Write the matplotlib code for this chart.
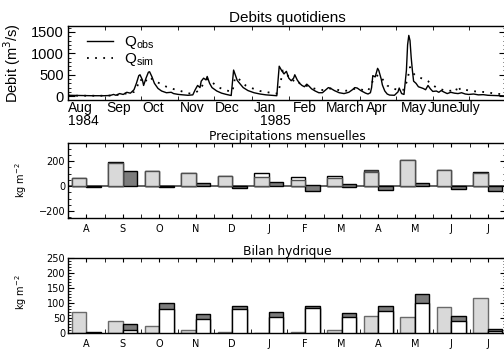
import numpy as np
import matplotlib
matplotlib.use('Agg')
import matplotlib.pyplot as plt
from matplotlib.ticker import MultipleLocator, FixedLocator
from matplotlib.lines import Line2D

# ---------------- data ----------------
# daily discharge vertices (day, m3/s), day 0 = 1 Aug 1984
obs_points = [(0, 20), (10, 15), (20, 10), (30, 10), (35, 15), (38, 40), (40, 20), (43, 60), (46, 40),
              (49, 90), (52, 70), (55, 150), (57, 300), (59, 480), (60, 500), (62, 380), (63, 250),
              (65, 420), (67, 560), (68, 570), (70, 450), (72, 300), (75, 180), (78, 120), (82, 80),
              (86, 90), (88, 60), (92, 40), (96, 30), (100, 20), (104, 30), (106, 150), (108, 250),
              (110, 200), (111, 350), (113, 420), (115, 380), (116, 460), (118, 300), (120, 200),
              (124, 120), (128, 70), (132, 40), (136, 15), (138, 610), (140, 450), (141, 370),
              (143, 300), (146, 200), (150, 130), (155, 80), (160, 50), (165, 30), (170, 20), (174, 10),
              (176, 700), (178, 600), (180, 520), (182, 580), (184, 420), (186, 360), (188, 420),
              (189, 500), (191, 380), (193, 300), (195, 250), (197, 220), (199, 280), (201, 230),
              (203, 170), (206, 120), (209, 80), (212, 80), (215, 150), (217, 200), (219, 180),
              (222, 130), (226, 80), (230, 60), (234, 90), (237, 150), (239, 200), (241, 190),
              (244, 130), (248, 70), (250, 50), (252, 80), (253, 200), (254, 480), (256, 450),
              (258, 650), (259, 600), (261, 400), (262, 260), (264, 120), (266, 50), (268, 25),
              (272, 20), (275, 100), (276, 190), (278, 60), (280, 40), (282, 600), (283, 1200),
              (284, 1420), (285, 1300), (286, 900), (287, 600), (288, 350), (290, 300), (292, 220),
              (294, 200), (296, 180), (298, 150), (299, 200), (300, 250), (302, 170), (304, 110),
              (307, 120), (309, 90), (311, 130), (313, 100), (316, 60), (319, 90), (322, 70), (325, 60),
              (328, 80), (331, 50), (334, 40), (338, 50), (342, 30), (346, 35), (350, 20), (355, 15),
              (360, 10), (365, 5)]
sim_points = [(0, 10), (30, 10), (40, 20), (45, 60), (50, 60), (55, 100), (58, 250), (60, 400), (62, 350),
              (64, 300), (66, 420), (68, 450), (70, 400), (74, 330), (78, 280), (82, 220), (86, 180),
              (90, 150), (94, 120), (98, 80), (102, 60), (106, 80), (110, 150), (113, 300), (116, 400),
              (119, 350), (122, 280), (126, 200), (130, 150), (134, 120), (137, 100), (139, 400),
              (141, 450), (144, 350), (148, 250), (152, 200), (156, 160), (160, 120), (165, 100),
              (170, 70), (175, 60), (177, 300), (179, 600), (181, 550), (184, 450), (187, 350),
              (190, 400), (193, 300), (197, 250), (201, 230), (205, 180), (210, 140), (215, 150),
              (219, 180), (224, 150), (230, 120), (235, 140), (240, 180), (245, 150), (250, 120),
              (253, 300), (256, 450), (259, 500), (262, 400), (266, 250), (270, 180), (275, 150),
              (280, 150), (283, 400), (285, 680), (287, 550), (289, 500), (292, 450), (296, 400),
              (300, 350), (303, 280), (307, 200), (312, 150), (316, 120), (320, 130), (323, 100),
              (325, 250), (327, 140), (331, 150), (336, 120), (340, 110), (345, 100), (350, 90),
              (355, 60), (360, 50), (365, 40)]

top_label_days = [0, 31.7, 61.8, 93.6, 122.8, 154.6, 187.2, 214.7, 248.1, 277.4, 300, 323.4]
top_labels = ['Aug', 'Sep', 'Oct', 'Nov', 'Dec', 'Jan', 'Feb', 'March', 'Apr', 'May', 'June', 'July']
month_start_days = [0, 31, 61, 92, 122, 153, 184, 212, 243, 273, 304, 334, 365]
year_label_days = [0, 160]
year_labels = ['1984', '1985']

months = ['A', 'S', 'O', 'N', 'D', 'J', 'F', 'M', 'A', 'M', 'J', 'J']
# Precipitations mensuelles
prec_dark = [0, 0, 0, 0, 0, 0, 0, 0, 130, 0, 0, 0]
prec_obs = [68, 190, 120, 104, 85, 104, 72, 85, 112, 211, 133, 112]
prec_sim = [66, 188, 118, 102, 80, 77, 53, 64, 112, 209, 131, 108]
diff_lo = [-10, 0, -10, 0, -18, 0, -35, -8, -29, 0, -21, -35]
diff_hi = [0, 123, 0, 29, 5, 37, 11, 14, 0, 24, 0, 3]
# Bilan hydrique
bil_left = [69, 40, 24, 10, 3, 0, 3, 10, 58, 54, 88, 118]
bil_white = [0, 10, 80, 47, 80, 52, 82, 52, 73, 99, 41, 6]
bil_total = [3, 29, 99, 62, 91, 69, 91, 66, 91, 130, 57, 15]

obs_day, obs_q = zip(*obs_points)
sim_day, sim_q = zip(*sim_points)

# ---------------- figure ----------------
W, H = 504, 351
fig = plt.figure(figsize=(5.04, 3.51), dpi=100)
plt.rcParams['font.family'] = ['Liberation Sans', 'DejaVu Sans']


def ax_at(l, t, r, b):
    return fig.add_axes([l / W, 1 - b / H, (r - l) / W, (b - t) / H])


LG = '#d9d9d9'
DG = '#7c7c7c'

# ---- top panel ----
ax = ax_at(68, 26, 506, 100)
ax.plot(obs_day, obs_q, color='black', lw=1.0)
ax.plot(sim_day, sim_q, color='black', lw=1.3, ls=(0, (1, 3.5)))
ax.set_xlim(0, 365)
ax.set_ylim(-90, 1640)
ax.yaxis.set_major_locator(FixedLocator([0, 500, 1000, 1500]))
ax.yaxis.set_minor_locator(MultipleLocator(100))
ax.tick_params(axis='y', which='both', direction='in', left=True, right=True, labelsize=10.5, pad=3)
ax.tick_params(axis='y', which='major', length=5)
ax.tick_params(axis='y', which='minor', length=2.5)
ax.set_xticks(top_label_days)
ax.set_xticklabels(top_labels)
for lab in ax.get_xticklabels():
    lab.set_ha('left')
ax.set_xticks(month_start_days, minor=True)
ax.tick_params(axis='x', which='major', length=0, labelsize=10, pad=1)
ax.tick_params(axis='x', which='minor', direction='in', length=3, top=True, bottom=True)
for d, t in zip(year_label_days, year_labels):
    ax.text(d, -0.19, t, transform=ax.get_xaxis_transform(), ha='left', va='top', fontsize=10)
ax.set_title('Debits quotidiens', fontsize=11, pad=3)
fig.text(12 / W, 1 - 63 / H, 'Debit (m$^{3}$/s)', rotation=90, ha='center', va='center', fontsize=10.5)
handles = [Line2D([], [], color='black', lw=1.0),
           Line2D([], [], color='black', lw=1.3, ls=(0, (1, 3.5)))]
ax.legend(handles, ['$\\mathregular{Q_{obs}}$', '$\\mathregular{Q_{sim}}$'], loc='upper left',
          bbox_to_anchor=(0.02, 1.03), frameon=False, fontsize=11, handlelength=1.7,
          handletextpad=0.7, labelspacing=0.0, borderpad=0.2)
for s in ax.spines.values():
    s.set_linewidth(1.0)

xm = np.arange(12)


def style_lower(ax, ymaj, ymin_step, ylim):
    ax.set_xlim(0, 12)
    ax.set_ylim(*ylim)
    ax.set_xticks(xm + 0.5)
    ax.set_xticklabels(months, fontfamily='DejaVu Sans')
    ax.set_xticks(np.arange(0, 12.01, 0.5), minor=True)
    ax.tick_params(axis='x', which='major', length=3, direction='in', top=True, bottom=True,
                   labelsize=7, pad=4)
    ax.tick_params(axis='x', which='minor', length=3, direction='in', top=True, bottom=True)
    ax.yaxis.set_major_locator(FixedLocator(ymaj))
    ax.yaxis.set_minor_locator(MultipleLocator(ymin_step))
    ax.tick_params(axis='y', which='both', direction='in', left=True, right=True, labelsize=7, pad=2)
    ax.tick_params(axis='y', which='major', length=4.5)
    ax.tick_params(axis='y', which='minor', length=2.5)
    for s in ax.spines.values():
        s.set_linewidth(1.0)


# ---- middle panel ----
ax2 = ax_at(68, 143, 506, 218)
ax2.axhline(0, color='#555555', lw=1.3, zorder=1)
ax2.bar(xm + 0.1, prec_dark, width=0.4, align='edge', color=DG, edgecolor='#303030', lw=1.0, zorder=2)
ax2.bar(xm + 0.1, prec_obs, width=0.4, align='edge', color='white', edgecolor='black', lw=1.0, zorder=3)
ax2.bar(xm + 0.1, prec_sim, width=0.4, align='edge', color=LG, edgecolor='#505050', lw=1.0, zorder=4)
ax2.bar(xm + 0.5, np.array(diff_hi) - np.array(diff_lo), bottom=diff_lo, width=0.4, align='edge',
        color=DG, edgecolor='black', lw=1.0, zorder=3)
style_lower(ax2, [-200, 0, 200], 50, (-255, 345))
ax2.set_yticklabels(['\u2212200', '0', '200'], fontfamily='DejaVu Sans')
ax2.set_title('Precipitations mensuelles', fontsize=8.8, pad=1.5, fontfamily='DejaVu Sans')
fig.text(21 / W, 1 - 180 / H, 'kg m$^{-2}$', rotation=90, ha='center', va='center', fontsize=7,
         fontfamily='DejaVu Sans')

# ---- bottom panel ----
ax3 = ax_at(68, 258, 506, 333)
ax3.bar(xm + 0.1, bil_left, width=0.4, align='edge', color=LG, edgecolor='#6a6a6a', lw=1.0, zorder=2)
ax3.bar(xm + 0.5, bil_total, width=0.4, align='edge', color=DG, edgecolor='black', lw=1.0, zorder=2)
ax3.bar(xm + 0.5, bil_white, width=0.4, align='edge', color='white', edgecolor='black', lw=1.0, zorder=3)
style_lower(ax3, [0, 50, 100, 150, 200, 250], 10, (0, 250))
ax3.set_yticklabels(['0', '50', '100', '150', '200', '250'], fontfamily='DejaVu Sans')
ax3.set_title('Bilan hydrique', fontsize=8.8, pad=1.5, fontfamily='DejaVu Sans')
fig.text(21 / W, 1 - 292 / H, 'kg m$^{-2}$', rotation=90, ha='center', va='center', fontsize=7,
         fontfamily='DejaVu Sans')

fig.savefig('out.png', dpi=100)
